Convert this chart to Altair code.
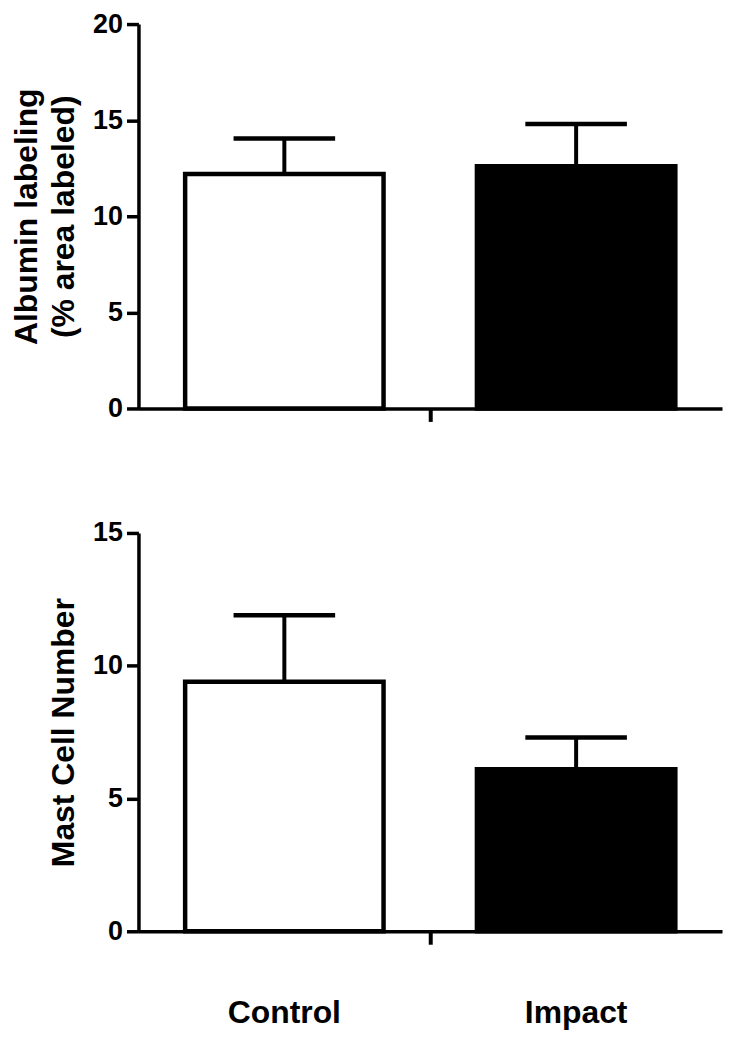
import altair as alt
import pandas as pd

groups = ["Control", "Impact"]
albumin_mean = [12.2, 12.6]
albumin_sem = [1.85, 2.2]
mast_mean = [9.4, 6.1]
mast_sem = [2.5, 1.2]
albumin_ticks = [0, 5, 10, 15, 20]
mast_ticks = [0, 5, 10, 15]
bar_fill = ["white", "black"]

FONT = "Liberation Sans"


def panel(means, sems, ticks, title, show_labels, height):
    df = pd.DataFrame({"group": groups, "mean": means, "sem": sems})
    base = alt.Chart(df).transform_calculate(upper="datum.mean + datum.sem")
    xscale = alt.Scale(domain=groups, paddingInner=0.32, paddingOuter=0.16)
    yscale = alt.Scale(domain=[ticks[0], ticks[-1]], nice=False)
    xaxis = alt.Axis(
        title=None,
        ticks=False,
        labels=show_labels,
        labelFontSize=32,
        labelFont=FONT,
        labelFontWeight="bold",
        labelColor="black",
        labelPadding=67,
        labelAngle=0,
        domainColor="black",
        domainWidth=3.5,
        grid=False,
        orient="bottom",
    )
    yaxis = alt.Axis(
        title=title,
        values=ticks,
        grid=False,
        domainColor="black",
        domainWidth=3.5,
        tickColor="black",
        tickWidth=3.5,
        tickSize=12,
        labelFont=FONT,
        labelFontWeight="bold",
        labelFontSize=27,
        labelColor="black",
        labelPadding=4,
        titleFont=FONT,
        titleFontWeight="bold",
        titleFontSize=32,
        titleLineHeight=37,
        titleColor="black",
        titlePadding=12,
    )
    xenc = alt.X("group:N", scale=xscale, axis=xaxis, sort=groups)
    rule = base.mark_rule(color="black", strokeWidth=4).encode(
        x=xenc,
        y=alt.Y("mean:Q", scale=yscale, axis=yaxis),
        y2="upper:Q",
    )
    cap = base.mark_tick(color="black", size=102, thickness=4.5, opacity=1).encode(
        x=alt.X("group:N", sort=groups),
        y=alt.Y("upper:Q"),
    )
    bars = base.mark_bar(stroke="black", strokeWidth=4.5, opacity=1).encode(
        x=alt.X("group:N", sort=groups),
        y=alt.Y("mean:Q"),
        fill=alt.Fill("group:N", scale=alt.Scale(domain=groups, range=bar_fill), legend=None),
    )
    data_layer = alt.layer(rule, cap, bars)
    centre = alt.Chart(df).mark_point(opacity=0).encode(
        x=alt.XDatum(
            0.5,
            type="quantitative",
            scale=alt.Scale(domain=[0, 1]),
            axis=alt.Axis(
                orient="bottom",
                values=[0.5],
                labels=False,
                domain=False,
                grid=False,
                title=None,
                tickColor="black",
                tickWidth=4,
                tickSize=13,
            ),
        ),
    )
    return (
        alt.layer(data_layer, centre)
        .resolve_scale(x="independent")
        .properties(width=586, height=height,
                    view=alt.ViewBackground(stroke="transparent", strokeWidth=0))
    )


top = panel(albumin_mean, albumin_sem, albumin_ticks,
            ["Albumin labeling", "(% area labeled)"], False, 386)
bottom = panel(mast_mean, mast_sem, mast_ticks, "Mast Cell Number", True, 400)

chart = (
    alt.vconcat(top, bottom, spacing=96)
    .properties(padding={"top": 0, "left": 2, "right": 4, "bottom": 0})
    .configure_view(stroke="transparent", strokeWidth=0)
    .configure(background="white", style={"cell": {"stroke": "transparent", "strokeWidth": 0}})
)

chart.save("out.html", embed_options={"renderer": "svg", "actions": False})
